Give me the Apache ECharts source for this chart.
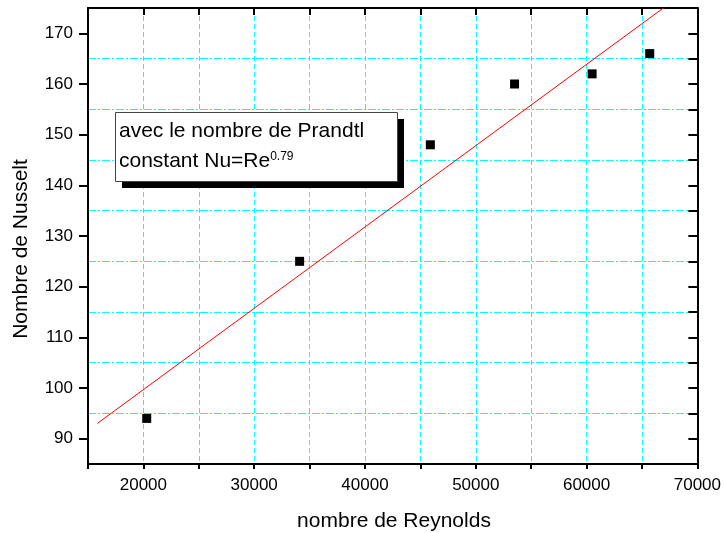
<!DOCTYPE html>
<html>
<head>
<meta charset="utf-8">
<script src="https://cdn.jsdelivr.net/npm/echarts@6/dist/echarts.min.js"></script>
<style>
html,body{margin:0;padding:0;background:#fff;}
#main{width:724px;height:533px;}
</style>
</head>
<body>
<div id="main"></div>
<script>
// Data
const reynolds = [20300, 34100, 45900, 53500, 60500, 65700];
const nusselt = [94, 125, 148, 160, 162, 166];
const fitX = [15840, 66930];
const fitY = [93.0, 175];
const xLabelValues = [20000, 30000, 40000, 50000, 60000, 70000];
const xGridValues = [20000, 25000, 30000, 35000, 40000, 45000, 50000, 55000, 60000, 65000];
const yLabelValues = [90, 100, 110, 120, 130, 140, 150, 160, 170];
const yGridValues = [95, 105, 115, 125, 135, 145, 155, 165];
const xTitle = 'nombre de Reynolds';
const yTitle = 'Nombre de Nusselt';
const noteLine1 = 'avec le nombre de Prandtl';
const noteLine2 = 'constant Nu=Re';
const noteSup = '0.79';

const FONT = '"Liberation Sans", Arial, sans-serif';
const chart = echarts.init(document.getElementById('main'));
const axisLine = {show: true, onZero: false, lineStyle: {color: '#000', width: 2}};
const plain = v => String(v);

chart.setOption({
  animation: false,
  backgroundColor: '#fff',
  grid: {left: 88, right: 24, top: 8, bottom: 69, containLabel: false},
  xAxis: [
    {
      type: 'value', position: 'bottom', min: 15000, max: 70000, interval: 5000,
      axisLine: axisLine,
      axisTick: {show: true, inside: false, length: 5, lineStyle: {color: '#000', width: 2}},
      axisLabel: {customValues: xLabelValues, formatter: plain, margin: 13, color: '#000', fontSize: 17, fontFamily: FONT},
      splitLine: {show: false}
    },
    {
      type: 'value', position: 'top', min: 15000, max: 70000, interval: 5000,
      axisLine: axisLine,
      axisTick: {show: true, inside: true, length: 7, lineStyle: {color: '#000', width: 2}},
      axisLabel: {show: false},
      splitLine: {show: false}
    },
    {
      type: 'value', position: 'bottom', min: 15000, max: 70000, z: 0,
      axisLine: {show: false},
      axisTick: {show: false, customValues: xGridValues},
      axisLabel: {show: false, customValues: xGridValues},
      splitLine: {show: true, lineStyle: {color: '#00ffff', width: 1, opacity: 1, type: [5, 3]}}
    }
  ],
  yAxis: [
    {
      type: 'value', position: 'left', min: 85, max: 175, interval: 5,
      axisLine: axisLine,
      axisTick: {show: true, inside: false, length: 9, customValues: yLabelValues, lineStyle: {color: '#000', width: 2}},
      axisLabel: {customValues: yLabelValues, formatter: plain, margin: 15, color: '#000', fontSize: 17, fontFamily: FONT},
      splitLine: {show: false}
    },
    {
      type: 'value', position: 'right', min: 85, max: 175, interval: 5,
      axisLine: axisLine,
      axisTick: {show: true, inside: true, length: 9, lineStyle: {color: '#000', width: 2}},
      axisLabel: {show: false},
      splitLine: {show: false}
    },
    {
      type: 'value', position: 'left', min: 85, max: 175, z: 0,
      axisLine: {show: false},
      axisTick: {show: false, customValues: yGridValues},
      axisLabel: {show: false, customValues: yGridValues},
      splitLine: {show: true, lineStyle: {color: '#00ffff', width: 1, opacity: 1, type: [8, 2, 2, 2]}}
    }
  ],
  series: [
    {
      type: 'line', xAxisIndex: 0, yAxisIndex: 0, z: 3,
      data: fitX.map((x, i) => [x, fitY[i]]),
      showSymbol: false, symbol: 'none', clip: true,
      lineStyle: {color: '#ff0000', width: 1, opacity: 1}
    },
    {
      type: 'scatter', xAxisIndex: 0, yAxisIndex: 0, z: 4,
      data: reynolds.map((x, i) => [x, nusselt[i]]),
      symbol: 'rect', symbolSize: 9,
      itemStyle: {color: '#000', opacity: 1}
    }
  ],
  graphic: [
    {type: 'rect', z: 100, shape: {x: 122, y: 119, width: 282, height: 69}, style: {fill: '#000'}},
    {type: 'rect', z: 101, shape: {x: 115.5, y: 112.5, width: 282, height: 69}, style: {fill: '#fff', stroke: '#444', lineWidth: 1}},
    {type: 'text', z: 102, x: 119, y: 131, style: {text: noteLine1, font: '21px ' + FONT, fill: '#000', verticalAlign: 'middle', align: 'left'}},
    {type: 'text', z: 102, x: 119, y: 161, style: {
      text: noteLine2 + '{sup|' + noteSup + '}', font: '21px ' + FONT, fill: '#000', verticalAlign: 'middle', align: 'left',
      rich: {sup: {fontSize: 12, fontFamily: FONT, fill: '#000', verticalAlign: 'top'}}
    }},
    {type: 'text', z: 102, x: 394, y: 521, style: {text: xTitle, font: '21px ' + FONT, fill: '#000', align: 'center', verticalAlign: 'middle'}},
    {type: 'text', z: 102, x: 21, y: 249, rotation: Math.PI / 2, style: {text: yTitle, font: '21px ' + FONT, fill: '#000', align: 'center', verticalAlign: 'middle'}}
  ]
});
</script>
</body>
</html>
